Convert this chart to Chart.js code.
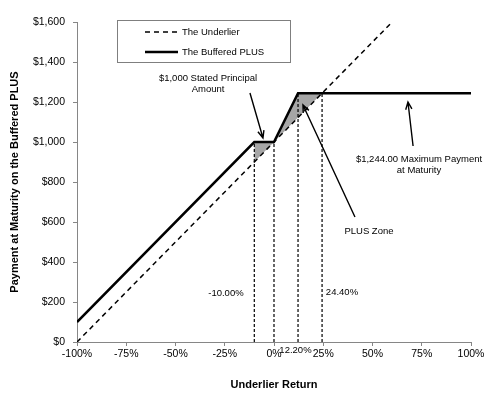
<!DOCTYPE html>
<html lang="en">
<head>
    <meta charset="UTF-8">
    <title>Buffered PLUS payoff</title>
    <script src="https://cdn.jsdelivr.net/npm/chart.js"></script>
    <style>
        * {
            margin: 0;
            padding: 0;
            box-sizing: border-box;
        }
        body {
            background: #fff;
            width: 501px;
            height: 402px;
            overflow: hidden;
        }
        .chart-box {
            position: relative;
            width: 501px;
            height: 402px;
        }
    </style>
</head>
<body>
    <div class="chart-box">
        <canvas id="payoffChart"></canvas>
    </div>

    <script>
        // Underlier: straight dashed line
        const underlierReturns = [-100, 100];
        const underlierPayment = [0, 2000];

        // Buffered PLUS payoff
        const bufferedReturns = [-100, -10, 0, 12.2, 100];
        const bufferedPayment = [100, 1000, 1000, 1244, 1244];

        // Gray shaded area between the two lines
        const shadeReturns = [-10, 0, 12.2, 24.4];
        const shadeUpper = [1000, 1000, 1244, 1244];
        const shadeLower = [900, 1000, 1122, 1244];

        // Vertical dotted markers
        const markerReturns = [-10, 0, 12.2, 24.4];
        const markerHeights = [1000, 1000, 1244, 1244];

        // Axis ticks
        const xTickValues = [-100, -75, -50, -25, 0, 25, 50, 75, 100];
        const yTickValues = [0, 200, 400, 600, 800, 1000, 1200, 1400, 1600];

        // Annotation text, placed in data units
        const notes = [
            { lines: ['$1,000 Stated Principal', 'Amount'], x: -33.5, y: 1320 },
            { lines: ['$1,244.00 Maximum Payment', 'at Maturity'], x: 73.6, y: 915 },
            { lines: ['PLUS Zone'], x: 48.2, y: 555 },
            { lines: ['-10.00%'], x: -24.4, y: 245 },
            { lines: ['24.40%'], x: 34.5, y: 250 },
            { lines: ['12.20%'], x: 10.9, y: -40 }
        ];
        // Arrows: from tail to head, data units
        const arrows = [
            { from: [-12.2, 1245], to: [-5.6, 1020] },
            { from: [41.1, 625], to: [14.7, 1185] },
            { from: [70.6, 980], to: [68.0, 1200] }
        ];

        const FONT = "'Liberation Sans', Arial, sans-serif";

        function pairs(xs, ys) {
            return xs.map((x, i) => ({ x: x, y: ys[i] }));
        }

        const markerSets = markerReturns.map((x, i) => ({
            label: 'marker' + i,
            data: [{ x: x, y: 0 }, { x: x, y: markerHeights[i] }],
            borderColor: '#000',
            borderWidth: 1.2,
            borderDash: [3, 2],
            pointRadius: 0,
            fill: false,
            order: 5
        }));

        // Legend box and annotations drawn over the plot
        const notesPlugin = {
            id: 'notes',
            afterDatasetsDraw(chart) {
                const c = chart.ctx;
                const xs = chart.scales.x;
                const ys = chart.scales.y;
                c.save();
                c.fillStyle = '#000';
                c.font = '9.5px ' + FONT;
                c.textAlign = 'center';
                c.textBaseline = 'middle';
                notes.forEach(n => {
                    const px = xs.getPixelForValue(n.x);
                    const py = ys.getPixelForValue(n.y);
                    n.lines.forEach((t, k) => c.fillText(t, px, py + k * 11));
                });

                c.strokeStyle = '#000';
                c.lineWidth = 1.4;
                arrows.forEach(a => {
                    const x1 = xs.getPixelForValue(a.from[0]);
                    const y1 = ys.getPixelForValue(a.from[1]);
                    const x2 = xs.getPixelForValue(a.to[0]);
                    const y2 = ys.getPixelForValue(a.to[1]);
                    const ang = Math.atan2(y2 - y1, x2 - x1);
                    c.beginPath();
                    c.moveTo(x1, y1);
                    c.lineTo(x2, y2);
                    c.moveTo(x2 - 8 * Math.cos(ang - 0.4), y2 - 8 * Math.sin(ang - 0.4));
                    c.lineTo(x2, y2);
                    c.lineTo(x2 - 8 * Math.cos(ang + 0.4), y2 - 8 * Math.sin(ang + 0.4));
                    c.stroke();
                });

                // legend
                const lx = 117, ly = 20, lw = 173, lh = 42;
                c.lineWidth = 1;
                c.strokeStyle = '#7f7f7f';
                c.fillStyle = '#fff';
                c.fillRect(lx, ly, lw, lh);
                c.strokeRect(lx + 0.5, ly + 0.5, lw, lh);
                const items = [chart.data.datasets[0], chart.data.datasets[1]];
                items.forEach((ds, k) => {
                    const yy = ly + 12 + k * 20;
                    c.strokeStyle = ds.borderColor;
                    c.lineWidth = ds.borderWidth;
                    c.setLineDash(ds.borderDash || []);
                    c.beginPath();
                    c.moveTo(lx + 28, yy);
                    c.lineTo(lx + 61, yy);
                    c.stroke();
                    c.setLineDash([]);
                    c.fillStyle = '#000';
                    c.textAlign = 'left';
                    c.fillText(ds.label, lx + 65, yy);
                });
                c.restore();
            }
        };

        const ctx = document.getElementById('payoffChart').getContext('2d');
        const payoffChart = new Chart(ctx, {
            type: 'line',
            data: {
                datasets: [
                    {
                        label: 'The Underlier',
                        data: pairs(underlierReturns, underlierPayment),
                        borderColor: '#000',
                        borderWidth: 1.5,
                        borderDash: [5, 4],
                        pointRadius: 0,
                        fill: false,
                        order: 1
                    },
                    {
                        label: 'The Buffered PLUS',
                        data: pairs(bufferedReturns, bufferedPayment),
                        borderColor: '#000',
                        borderWidth: 2.5,
                        pointRadius: 0,
                        fill: false,
                        order: 0
                    },
                    {
                        label: 'shadeUpper',
                        data: pairs(shadeReturns, shadeUpper),
                        borderWidth: 0,
                        borderColor: 'rgba(0,0,0,0)',
                        backgroundColor: '#a6a6a6',
                        pointRadius: 0,
                        fill: '+1',
                        order: 10
                    },
                    {
                        label: 'shadeLower',
                        data: pairs(shadeReturns, shadeLower),
                        borderWidth: 0,
                        borderColor: 'rgba(0,0,0,0)',
                        pointRadius: 0,
                        fill: false,
                        order: 11
                    },
                    ...markerSets
                ]
            },
            options: {
                responsive: true,
                maintainAspectRatio: false,
                animation: false,
                layout: {
                    padding: { left: 0, right: 30, top: 22, bottom: 10 }
                },
                plugins: {
                    legend: { display: false },
                    tooltip: { enabled: false }
                },
                scales: {
                    x: {
                        type: 'linear',
                        min: -100,
                        max: 100,
                        afterBuildTicks: axis => {
                            axis.ticks = xTickValues.map(v => ({ value: v }));
                        },
                        afterFit: axis => { axis.height = 50; },
                        ticks: {
                            color: '#000',
                            padding: 2,
                            maxRotation: 0,
                            font: { family: FONT, size: 10.5 },
                            callback: v => v + '%'
                        },
                        grid: {
                            drawOnChartArea: false,
                            drawTicks: true,
                            tickLength: 4,
                            color: '#868686'
                        },
                        border: { color: '#868686', width: 1 },
                        title: {
                            display: true,
                            text: 'Underlier Return',
                            color: '#000',
                            font: { family: FONT, size: 11, weight: 'bold' },
                            padding: { top: 8, bottom: 0 }
                        }
                    },
                    y: {
                        type: 'linear',
                        min: 0,
                        max: 1600,
                        afterBuildTicks: axis => {
                            axis.ticks = yTickValues.map(v => ({ value: v }));
                        },
                        afterFit: axis => { axis.width = 77; },
                        ticks: {
                            color: '#000',
                            padding: 8,
                            font: { family: FONT, size: 10.5 },
                            callback: v => '$' + v.toLocaleString('en-US')
                        },
                        grid: {
                            drawOnChartArea: false,
                            drawTicks: true,
                            tickLength: 4,
                            color: '#868686'
                        },
                        border: { color: '#868686', width: 1 },
                        title: {
                            display: true,
                            text: 'Payment at Maturity on the Buffered PLUS',
                            color: '#000',
                            font: { family: FONT, size: 11, weight: 'bold' },
                            padding: { top: 8, bottom: 0 }
                        }
                    }
                }
            },
            plugins: [notesPlugin]
        });
    </script>
</body>
</html>
